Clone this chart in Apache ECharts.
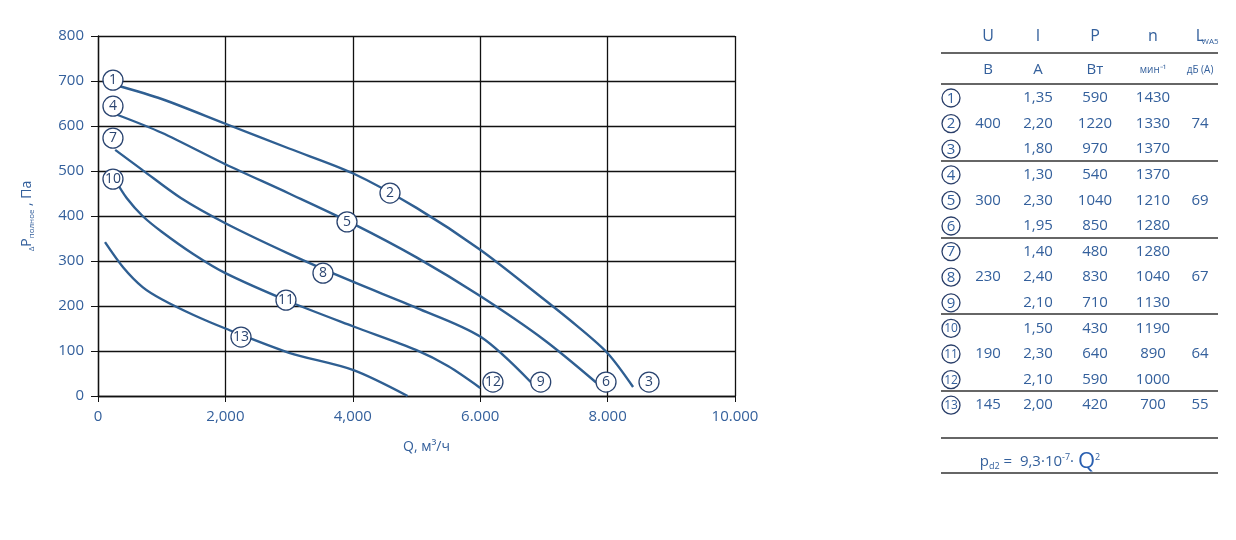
<!DOCTYPE html>
<html>
<head>
<meta charset="utf-8">
<script src="https://cdn.jsdelivr.net/npm/echarts@6/dist/echarts.min.js"></script>
<style>
  html, body { margin: 0; padding: 0; background: #fff; }
  #chart { width: 1236px; height: 540px; }
</style>
</head>
<body>
<div id="chart"></div>
<script>
// fan curves: [Q m3/h, dP Pa]
const curve123 = [[300, 690], [1000, 660], [2000, 605], [3000, 550], [4000, 495], [5000, 418], [6000, 325], [7000, 215], [7500, 158], [8000, 95], [8400, 20]];
const curve456 = [[300, 625], [1000, 585], [2000, 515], [3000, 450], [4000, 383], [5000, 308], [6000, 222], [7000, 125], [7820, 30]];
const curve789 = [[270, 547], [700, 502], [1300, 440], [2000, 384], [3000, 316], [4000, 254], [5000, 196], [6000, 132], [6800, 30]];
const curve1012 = [[270, 480], [450, 440], [700, 400], [1000, 365], [1500, 315], [2000, 273], [3000, 210], [4000, 155], [5000, 102], [5500, 66], [6000, 18]];
const curve13 = [[110, 342], [400, 285], [700, 242], [1000, 215], [1500, 180], [2000, 150], [3000, 96], [4000, 58], [4860, 0]];

// circled curve numbers: [Q, dP, number]
const curveMarks = [
  [235, 702, '1'], [235, 644, '4'], [235, 573, '7'], [235, 482, '10'],
  [4584, 451, '2'], [3909, 387, '5'], [3532, 273, '8'], [2951, 213, '11'], [2245, 131, '13'],
  [6200, 31, '12'], [6950, 31, '9'], [7975, 31, '6'], [8650, 31, '3']
];

const xTickLabels = ['0', '2,000', '4,000', '6.000', '8.000', '10.000'];

// table on the right
const tableHead = ['U', 'I', 'P', 'n', 'L'];
const tableUnits = ['В', 'А', 'Вт', 'мин⁻¹', 'дБ (А)'];
const rowNums = ['1', '2', '3', '4', '5', '6', '7', '8', '9', '10', '11', '12', '13'];
const voltages = ['400', '300', '230', '190', '145'];
const voltageRows = [1, 4, 7, 10, 12];
const currents = ['1,35', '2,20', '1,80', '1,30', '2,30', '1,95', '1,40', '2,40', '2,10', '1,50', '2,30', '2,10', '2,00'];
const powers = ['590', '1220', '970', '540', '1040', '850', '480', '830', '710', '430', '640', '590', '420'];
const speeds = ['1430', '1330', '1370', '1370', '1210', '1280', '1280', '1040', '1130', '1190', '890', '1000', '700'];
const noise = ['74', '69', '67', '64', '55'];

const blue = '#2f5f92';
const txt = '#34609c';
const font = 'Open Sans';

const lineSeries = [curve123, curve456, curve789, curve1012, curve13].map(d => ({
  type: 'line',
  data: d,
  smooth: 0.3,
  showSymbol: false,
  silent: true,
  lineStyle: { color: blue, width: 2.4 },
  z: 3
}));

// table graphics
const colX = [988, 1038, 1095, 1153, 1200];
const rowY = i => 98 + i * 25.6;
const g = [];
const tText = (x, y, s, size) => g.push({
  type: 'text', x: x, y: y,
  style: { text: s, fill: txt, font: (size || 15) + 'px "' + font + '"', align: 'center', verticalAlign: 'middle' }
});
const hLine = y => g.push({ type: 'line', shape: { x1: 941, y1: y, x2: 1218, y2: y }, style: { stroke: '#333', lineWidth: 1.3 } });

tableHead.forEach((h, i) => tText(colX[i], 36, h, 16));
g.push({ type: 'text', x: 1210, y: 42, style: { text: 'WA5', fill: txt, font: '8px "' + font + '"', align: 'center', verticalAlign: 'middle' } });
tableUnits.forEach((u, i) => tText(colX[i], 70, u, i >= 3 ? 10 : 15));
[53, 84, 161, 238, 314, 391, 438, 473].forEach(hLine);

rowNums.forEach((n, i) => {
  const y = rowY(i);
  g.push({ type: 'circle', shape: { cx: 951, cy: y, r: 9 }, style: { fill: '#fff', stroke: '#2a3f6a', lineWidth: 1.3 } });
  tText(951, y + 0.5, n, n.length > 1 ? 12 : 15);
  tText(colX[1], y, currents[i]);
  tText(colX[2], y, powers[i]);
  tText(colX[3], y, speeds[i]);
});
voltages.forEach((v, k) => {
  tText(colX[0], rowY(voltageRows[k]), v);
  tText(colX[4], rowY(voltageRows[k]), noise[k]);
});
g.push({
  type: 'text', x: 1040, y: 462,
  style: {
    text: '{a|p}{b|d2}{a| =  9,3·10}{c|-7}{a|· }{q|Q}{c|2}',
    align: 'center', verticalAlign: 'middle',
    rich: {
      a: { fill: txt, font: '15px "' + font + '"' },
      b: { fill: txt, font: '9px "' + font + '"', padding: [9, 0, 0, 0] },
      c: { fill: txt, font: '9px "' + font + '"', padding: [0, 0, 9, 0] },
      q: { fill: '#2a5fb0', font: '22px "' + font + '"' }
    }
  }
});

const chart = echarts.init(document.getElementById('chart'), null, { renderer: 'canvas' });
chart.setOption({
  backgroundColor: '#fff',
  animation: false,
  grid: { left: 98, right: 501, top: 36, bottom: 144 },
  xAxis: {
    type: 'value', min: 0, max: 10000, interval: 2000,
    name: '{a|Q, м³/ч}', nameLocation: 'middle', nameGap: 44,
    nameTextStyle: { rich: { a: { color: txt, fontSize: 14, fontFamily: font, padding: [0, 0, 0, 20] } } },
    axisLine: { show: true, lineStyle: { color: '#111', width: 1.3 } },
    axisTick: { show: true, length: 6, lineStyle: { color: '#111' } },
    splitLine: { show: true, lineStyle: { color: '#111', width: 1.3 } },
    axisLabel: { color: txt, fontSize: 15, fontFamily: font, margin: 13, formatter: v => xTickLabels[Math.round(v / 2000)] }
  },
  yAxis: {
    type: 'value', min: 0, max: 800, interval: 100,
    name: '{s|Δ}{p|P}{s|полное}{p| , Па}', nameLocation: 'middle', nameGap: 62, nameRotate: 90,
    nameTextStyle: {
      rich: {
        p: { color: txt, fontSize: 14, fontFamily: font },
        s: { color: txt, fontSize: 8, fontFamily: font, padding: [9, 0, 0, 0] }
      }
    },
    axisLine: { show: true, lineStyle: { color: '#111', width: 1.3 } },
    axisTick: { show: true, length: 7, lineStyle: { color: '#111' } },
    splitLine: { show: true, lineStyle: { color: '#111', width: 1.3 } },
    axisLabel: { color: txt, fontSize: 15, fontFamily: font, margin: 14 }
  },
  series: lineSeries.concat([{
    type: 'scatter',
    data: curveMarks.map(m => ({ value: [m[0], m[1]], name: m[2] })),
    symbol: 'circle',
    symbolSize: 20,
    silent: true,
    itemStyle: { color: '#fff', borderColor: '#2a4470', borderWidth: 1.3, opacity: 1 },
    label: {
      show: true, position: 'inside', formatter: p => p.name,
      color: '#2a4470', fontFamily: font,
      fontSize: 14
    },
    z: 5
  }]),
  graphic: g
});
</script>
</body>
</html>
